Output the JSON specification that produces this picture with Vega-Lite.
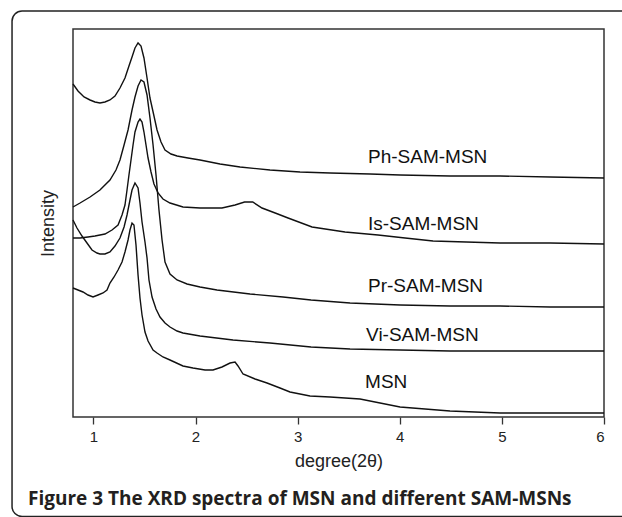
{
  "$schema": "https://vega.github.io/schema/vega-lite/v6.json",
  "width": 531,
  "height": 388,
  "autosize": {"type": "none"},
  "padding": {"left": 73, "top": 29, "right": 18, "bottom": 100},
  "background": "white",
  "config": {
    "view": {"stroke": "#333333", "strokeWidth": 1.5},
    "font": "Liberation Sans"
  },
  "title": {
    "text": "Figure 3 The XRD spectra of MSN and different SAM-MSNs",
    "orient": "bottom",
    "anchor": "start",
    "frame": "group",
    "dx": -45,
    "offset": -27,
    "font": "Open Sans",
    "fontSize": 19,
    "fontWeight": "bold",
    "color": "#231f20"
  },
  "datasets": {
    "curves": [
      {"s":"Ph","x":0.800,"y":333},{"s":"Ph","x":0.849,"y":326},{"s":"Ph","x":0.908,"y":320},{"s":"Ph","x":0.967,"y":317},{"s":"Ph","x":1.015,"y":315},{"s":"Ph","x":1.064,"y":314},{"s":"Ph","x":1.113,"y":315},{"s":"Ph","x":1.162,"y":317},{"s":"Ph","x":1.211,"y":321},{"s":"Ph","x":1.260,"y":329},{"s":"Ph","x":1.309,"y":339},{"s":"Ph","x":1.348,"y":351},{"s":"Ph","x":1.378,"y":360},{"s":"Ph","x":1.407,"y":369},{"s":"Ph","x":1.437,"y":374},{"s":"Ph","x":1.466,"y":371},{"s":"Ph","x":1.495,"y":359},{"s":"Ph","x":1.525,"y":339},{"s":"Ph","x":1.554,"y":319},{"s":"Ph","x":1.593,"y":301},{"s":"Ph","x":1.623,"y":287},{"s":"Ph","x":1.662,"y":275},{"s":"Ph","x":1.701,"y":267},{"s":"Ph","x":1.760,"y":263},{"s":"Ph","x":1.819,"y":261},{"s":"Ph","x":1.926,"y":259},{"s":"Ph","x":2.044,"y":257},{"s":"Ph","x":2.240,"y":253},{"s":"Ph","x":2.436,"y":250},{"s":"Ph","x":2.729,"y":247},{"s":"Ph","x":3.023,"y":245},{"s":"Ph","x":3.317,"y":244},{"s":"Ph","x":3.709,"y":243},{"s":"Ph","x":4.003,"y":242},{"s":"Ph","x":4.492,"y":241},{"s":"Ph","x":4.982,"y":241},{"s":"Ph","x":5.472,"y":240},{"s":"Ph","x":6.000,"y":239},
      {"s":"Pr","x":0.800,"y":210},{"s":"Pr","x":0.869,"y":214},{"s":"Pr","x":0.967,"y":220},{"s":"Pr","x":1.064,"y":227},{"s":"Pr","x":1.162,"y":237},{"s":"Pr","x":1.221,"y":247},{"s":"Pr","x":1.260,"y":257},{"s":"Pr","x":1.300,"y":272},{"s":"Pr","x":1.339,"y":287},{"s":"Pr","x":1.378,"y":307},{"s":"Pr","x":1.407,"y":320},{"s":"Pr","x":1.437,"y":331},{"s":"Pr","x":1.466,"y":337},{"s":"Pr","x":1.495,"y":335},{"s":"Pr","x":1.525,"y":322},{"s":"Pr","x":1.554,"y":299},{"s":"Pr","x":1.584,"y":272},{"s":"Pr","x":1.613,"y":242},{"s":"Pr","x":1.642,"y":207},{"s":"Pr","x":1.672,"y":177},{"s":"Pr","x":1.701,"y":155},{"s":"Pr","x":1.750,"y":143},{"s":"Pr","x":1.819,"y":137},{"s":"Pr","x":1.917,"y":133},{"s":"Pr","x":2.044,"y":130},{"s":"Pr","x":2.210,"y":127},{"s":"Pr","x":2.534,"y":123},{"s":"Pr","x":2.857,"y":120},{"s":"Pr","x":3.131,"y":117},{"s":"Pr","x":3.513,"y":114},{"s":"Pr","x":4.003,"y":112},{"s":"Pr","x":4.492,"y":111},{"s":"Pr","x":4.982,"y":111},{"s":"Pr","x":5.472,"y":110},{"s":"Pr","x":6.000,"y":110},
      {"s":"Is","x":0.800,"y":179},{"s":"Is","x":0.869,"y":179},{"s":"Is","x":0.947,"y":180},{"s":"Is","x":1.015,"y":181},{"s":"Is","x":1.113,"y":183},{"s":"Is","x":1.182,"y":187},{"s":"Is","x":1.241,"y":192},{"s":"Is","x":1.280,"y":202},{"s":"Is","x":1.309,"y":212},{"s":"Is","x":1.329,"y":227},{"s":"Is","x":1.348,"y":242},{"s":"Is","x":1.368,"y":257},{"s":"Is","x":1.388,"y":272},{"s":"Is","x":1.407,"y":285},{"s":"Is","x":1.437,"y":295},{"s":"Is","x":1.456,"y":298},{"s":"Is","x":1.476,"y":295},{"s":"Is","x":1.495,"y":285},{"s":"Is","x":1.515,"y":272},{"s":"Is","x":1.535,"y":259},{"s":"Is","x":1.564,"y":245},{"s":"Is","x":1.593,"y":233},{"s":"Is","x":1.633,"y":224},{"s":"Is","x":1.681,"y":218},{"s":"Is","x":1.750,"y":214},{"s":"Is","x":1.877,"y":210},{"s":"Is","x":2.044,"y":209},{"s":"Is","x":2.259,"y":209},{"s":"Is","x":2.387,"y":212},{"s":"Is","x":2.480,"y":215},{"s":"Is","x":2.560,"y":215},{"s":"Is","x":2.651,"y":209},{"s":"Is","x":2.780,"y":204},{"s":"Is","x":2.906,"y":199},{"s":"Is","x":3.141,"y":190},{"s":"Is","x":3.464,"y":185},{"s":"Is","x":3.787,"y":182},{"s":"Is","x":4.052,"y":179},{"s":"Is","x":4.326,"y":176},{"s":"Is","x":4.650,"y":175},{"s":"Is","x":4.982,"y":174},{"s":"Is","x":5.472,"y":174},{"s":"Is","x":6.000,"y":173},
      {"s":"Vi","x":0.800,"y":197},{"s":"Vi","x":0.839,"y":189},{"s":"Vi","x":0.888,"y":181},{"s":"Vi","x":0.937,"y":174},{"s":"Vi","x":0.986,"y":167},{"s":"Vi","x":1.035,"y":164},{"s":"Vi","x":1.064,"y":163},{"s":"Vi","x":1.113,"y":163},{"s":"Vi","x":1.162,"y":165},{"s":"Vi","x":1.211,"y":171},{"s":"Vi","x":1.260,"y":179},{"s":"Vi","x":1.300,"y":190},{"s":"Vi","x":1.329,"y":202},{"s":"Vi","x":1.358,"y":217},{"s":"Vi","x":1.378,"y":227},{"s":"Vi","x":1.407,"y":234},{"s":"Vi","x":1.437,"y":229},{"s":"Vi","x":1.456,"y":214},{"s":"Vi","x":1.476,"y":195},{"s":"Vi","x":1.505,"y":175},{"s":"Vi","x":1.525,"y":159},{"s":"Vi","x":1.544,"y":137},{"s":"Vi","x":1.574,"y":120},{"s":"Vi","x":1.613,"y":108},{"s":"Vi","x":1.652,"y":100},{"s":"Vi","x":1.701,"y":94},{"s":"Vi","x":1.750,"y":90},{"s":"Vi","x":1.819,"y":86},{"s":"Vi","x":1.877,"y":84},{"s":"Vi","x":2.044,"y":81},{"s":"Vi","x":2.367,"y":77},{"s":"Vi","x":2.729,"y":74},{"s":"Vi","x":3.131,"y":70},{"s":"Vi","x":3.513,"y":68},{"s":"Vi","x":4.003,"y":67},{"s":"Vi","x":4.492,"y":66},{"s":"Vi","x":4.982,"y":66},{"s":"Vi","x":6.000,"y":66},
      {"s":"MSN","x":0.800,"y":129},{"s":"MSN","x":0.849,"y":127},{"s":"MSN","x":0.898,"y":125},{"s":"MSN","x":0.947,"y":122},{"s":"MSN","x":0.996,"y":120},{"s":"MSN","x":1.045,"y":122},{"s":"MSN","x":1.094,"y":124},{"s":"MSN","x":1.133,"y":127},{"s":"MSN","x":1.162,"y":134},{"s":"MSN","x":1.202,"y":140},{"s":"MSN","x":1.241,"y":147},{"s":"MSN","x":1.280,"y":155},{"s":"MSN","x":1.309,"y":165},{"s":"MSN","x":1.339,"y":177},{"s":"MSN","x":1.358,"y":187},{"s":"MSN","x":1.378,"y":194},{"s":"MSN","x":1.397,"y":192},{"s":"MSN","x":1.417,"y":172},{"s":"MSN","x":1.437,"y":142},{"s":"MSN","x":1.456,"y":119},{"s":"MSN","x":1.476,"y":102},{"s":"MSN","x":1.505,"y":85},{"s":"MSN","x":1.535,"y":76},{"s":"MSN","x":1.584,"y":67},{"s":"MSN","x":1.623,"y":64},{"s":"MSN","x":1.681,"y":60},{"s":"MSN","x":1.750,"y":57},{"s":"MSN","x":1.877,"y":51},{"s":"MSN","x":1.975,"y":49},{"s":"MSN","x":2.093,"y":47},{"s":"MSN","x":2.171,"y":47},{"s":"MSN","x":2.259,"y":50},{"s":"MSN","x":2.338,"y":54},{"s":"MSN","x":2.387,"y":55},{"s":"MSN","x":2.416,"y":51},{"s":"MSN","x":2.465,"y":43},{"s":"MSN","x":2.583,"y":38},{"s":"MSN","x":2.700,"y":34},{"s":"MSN","x":2.827,"y":29},{"s":"MSN","x":2.925,"y":25},{"s":"MSN","x":3.121,"y":21},{"s":"MSN","x":3.317,"y":20},{"s":"MSN","x":3.611,"y":18},{"s":"MSN","x":3.807,"y":14},{"s":"MSN","x":4.003,"y":10},{"s":"MSN","x":4.492,"y":6},{"s":"MSN","x":4.982,"y":4},{"s":"MSN","x":5.472,"y":4},{"s":"MSN","x":6.000,"y":4}
    ],
    "labels": [
      {"label":"Ph-SAM-MSN","lx":3.689,"ly":254},
      {"label":"Is-SAM-MSN","lx":3.689,"ly":187},
      {"label":"Pr-SAM-MSN","lx":3.689,"ly":125},
      {"label":"Vi-SAM-MSN","lx":3.670,"ly":76},
      {"label":"MSN","lx":3.660,"ly":29}
    ]
  },
  "layer": [
    {
      "data": {"values": [{"frame": "outer"}]},
      "mark": {"type": "rect", "filled": false, "stroke": "#222222", "strokeWidth": 1.5, "cornerRadius": 10, "clip": false},
      "encoding": {
        "x": {"datum": 0.203, "type": "quantitative", "scale": {"domain": [0.8, 6]}},
        "x2": {"datum": 8},
        "y": {"datum": 406, "type": "quantitative", "scale": {"domain": [0, 388]}},
        "y2": {"datum": -99.5}
      }
    },
    {
      "data": {"name": "curves"},
      "mark": {"type": "line", "color": "#111111", "strokeWidth": 1.4, "interpolate": "linear"},
      "encoding": {
        "x": {
          "field": "x", "type": "quantitative",
          "scale": {"domain": [0.8, 6], "nice": false, "zero": false},
          "axis": {
            "title": "degree(2θ)",
            "values": [1, 1.5, 2, 2.5, 3, 3.5, 4, 4.5, 5, 5.5, 6],
            "format": "d",
            "labelExpr": "datum.value % 1 === 0 ? datum.label : ''",
            "tickSize": {"condition": {"test": "datum.value % 1 !== 0", "value": 4}, "value": 7},
            "tickColor": "#333333",
            "tickWidth": 1.3,
            "domain": false,
            "grid": false,
            "labelFont": "Liberation Sans",
            "labelFontSize": 15,
            "labelColor": "#222222",
            "labelPadding": 5,
            "titleFont": "Liberation Sans",
            "titleFontSize": 18,
            "titleFontWeight": "normal",
            "titleColor": "#222222",
            "titlePadding": 8
          }
        },
        "y": {
          "field": "y", "type": "quantitative",
          "scale": {"domain": [0, 388], "nice": false, "zero": false},
          "axis": {
            "title": "Intensity",
            "ticks": false,
            "labels": false,
            "domain": false,
            "grid": false,
            "titleFont": "Liberation Sans",
            "titleFontSize": 18,
            "titleFontWeight": "normal",
            "titleColor": "#222222",
            "titlePadding": 16
          }
        },
        "detail": {"field": "s", "type": "nominal"}
      }
    },
    {
      "data": {"name": "labels"},
      "mark": {"type": "text", "align": "left", "baseline": "alphabetic", "font": "Liberation Sans", "fontSize": 19, "color": "#111111"},
      "encoding": {
        "x": {"field": "lx", "type": "quantitative"},
        "y": {"field": "ly", "type": "quantitative"},
        "text": {"field": "label", "type": "nominal"}
      }
    }
  ]
}
